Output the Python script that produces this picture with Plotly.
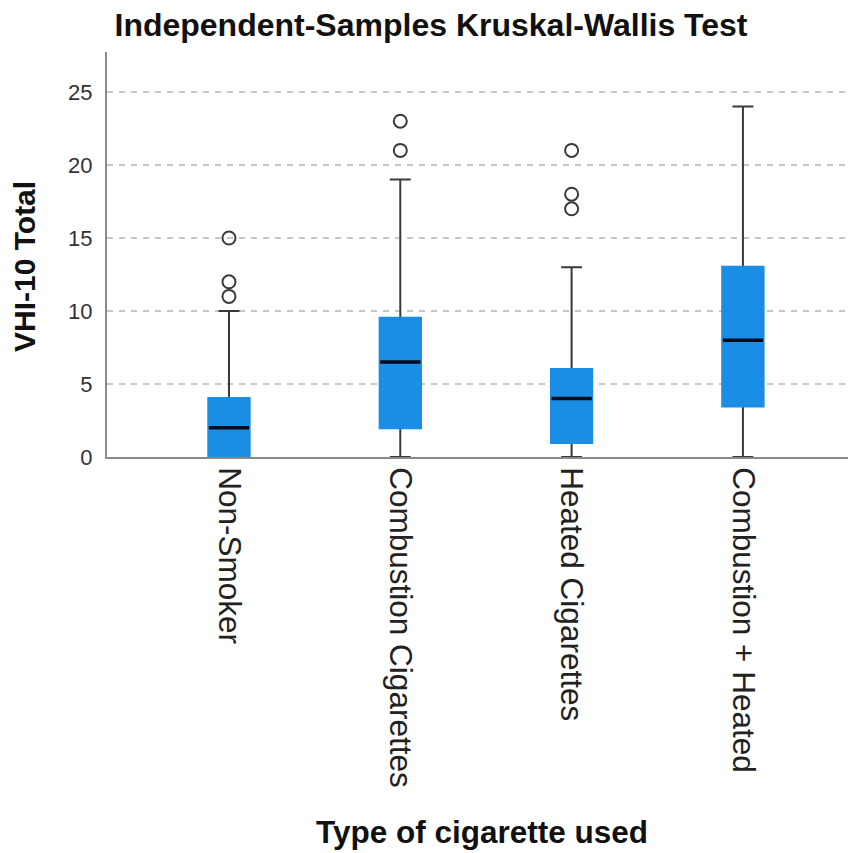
import plotly.graph_objects as go

# ---- data ----
categories = ["Non-Smoker", "Combustion Cigarettes", "Heated Cigarettes", "Combustion + Heated"]
q1 = [0, 2, 1, 3.5]
median = [2, 6.5, 4, 8]
q3 = [4, 9.5, 6, 13]
lower_whisker = [0, 0, 0, 0]
upper_whisker = [10, 19, 13, 24]
outlier_group = ["Non-Smoker", "Non-Smoker", "Non-Smoker",
                 "Combustion Cigarettes", "Combustion Cigarettes",
                 "Heated Cigarettes", "Heated Cigarettes", "Heated Cigarettes"]
outlier_values = [11, 12, 15, 21, 23, 17, 18, 21]
y_ticks = [0, 5, 10, 15, 20, 25]

title_text = "Independent-Samples Kruskal-Wallis Test"
x_title = "Type of cigarette used"
y_title = "VHI-10 Total"

# ---- styling ----
BLUE = "rgb(26,141,229)"
WHISKER = "#3a3a3a"
FONT = "Liberation Sans, Arial, sans-serif"
BOX_W = 0.235
W, H = 856, 853
ML, MR, MT, MB = 99, 8, 44, 404
plot_h = H - MT - MB

fig = go.Figure()

# whiskers + caps
fig.add_trace(go.Box(
    x=categories, q1=q1, median=median, q3=q3,
    lowerfence=lower_whisker, upperfence=upper_whisker,
    fillcolor=BLUE, line=dict(color=WHISKER, width=2),
    whiskerwidth=0.52, width=BOX_W, boxpoints=False,
    showlegend=False, hoverinfo="skip"))

# box body without dark outline
fig.add_trace(go.Box(
    x=categories, q1=q1, median=q1, q3=q3,
    lowerfence=q1, upperfence=q3,
    fillcolor=BLUE, line=dict(color=BLUE, width=3),
    whiskerwidth=0, width=BOX_W, boxpoints=False,
    showlegend=False, hoverinfo="skip"))

# median bar
fig.add_trace(go.Box(
    x=categories, q1=median, median=median, q3=median,
    lowerfence=median, upperfence=median,
    fillcolor="rgba(0,0,0,0)", line=dict(color="#050a1a", width=3.5),
    whiskerwidth=0, width=BOX_W, boxpoints=False,
    showlegend=False, hoverinfo="skip"))

# outliers
fig.add_trace(go.Scatter(
    x=outlier_group, y=outlier_values, mode="markers",
    marker=dict(symbol="circle-open", size=13, color=WHISKER, line=dict(width=2, color=WHISKER)),
    showlegend=False, hoverinfo="skip"))

fig.update_layout(
    width=W, height=H,
    margin=dict(l=ML, r=MR, t=MT, b=MB, autoexpand=False),
    paper_bgcolor="white", plot_bgcolor="white",
    font=dict(family=FONT, color="#222222"),
    boxmode="overlay",
    title=dict(text="<b>" + title_text + "</b>", x=423 / W, xanchor="center",
               y=1 - 17 / H, yanchor="middle", yref="container",
               font=dict(size=32, color="#111111", family=FONT)),
    xaxis=dict(
        type="category", categoryorder="array", categoryarray=categories,
        range=[-0.712, 3.66], tickangle=90, ticks="",
        tickfont=dict(size=31.5, color="#222222"), ticklabelstandoff=2,
        showline=True, linecolor="#8a8a8a", linewidth=2,
        showgrid=False, zeroline=False, automargin=False),
    yaxis=dict(
        range=[0, 27.74], tickvals=y_ticks, ticks="",
        tickfont=dict(size=22, color="#333333"), ticklabelstandoff=8,
        showline=True, linecolor="#8a8a8a", linewidth=2,
        showgrid=True, gridcolor="#c8c8c8", gridwidth=1.5, griddash="6px,6px",
        zeroline=False, automargin=False),
    annotations=[
        dict(text="<b>" + x_title + "</b>", xref="paper", yref="paper",
             x=0.5, y=(H - MB - 824) / plot_h, xanchor="center", yanchor="middle",
             showarrow=False, font=dict(size=31.5, color="#111111", family=FONT)),
        dict(text="<b>" + y_title + "</b>", xref="paper", yref="paper",
             x=(16 - ML) / (W - ML - MR), y=(H - MB - 259) / plot_h,
             xanchor="center", yanchor="middle", textangle=-90,
             showarrow=False, font=dict(size=30, color="#111111", family=FONT)),
    ],
)

fig.write_html("out.html")
